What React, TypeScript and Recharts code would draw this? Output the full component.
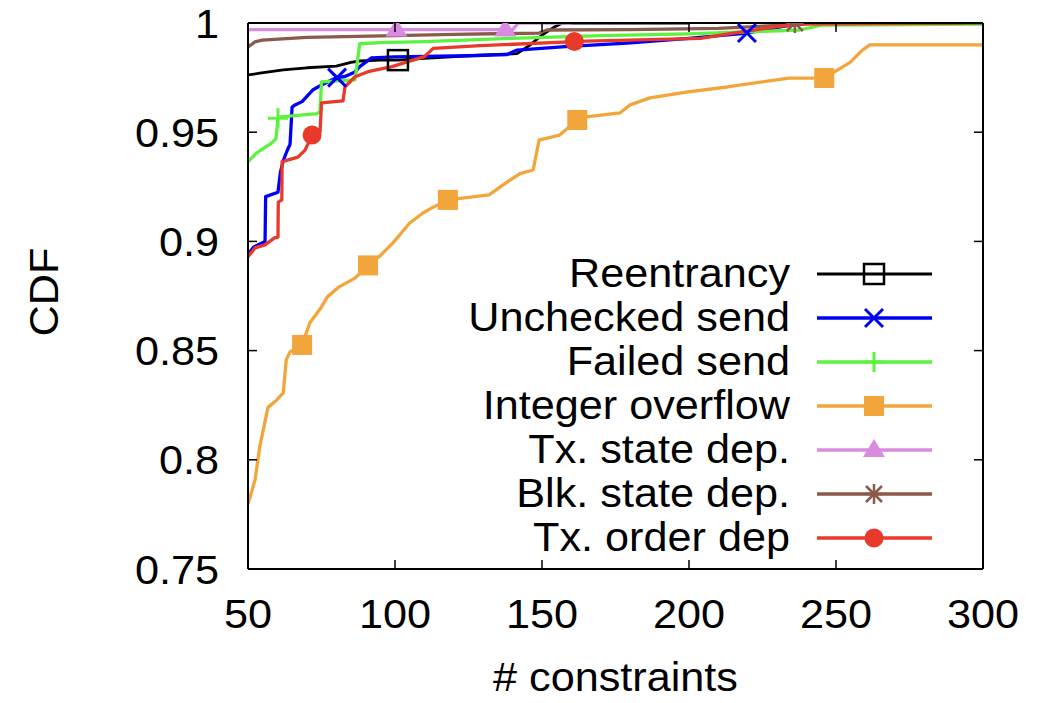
import React from 'react';
import { LineChart, Line, XAxis, YAxis, Legend } from 'recharts';

const xTicks = [50, 100, 150, 200, 250, 300];
const yTicks = [0.75, 0.8, 0.85, 0.9, 0.95, 1];
const yTickLabels = ['0.75', '0.8', '0.85', '0.9', '0.95', '1'];

const seriesNames = ['Reentrancy', 'Unchecked send', 'Failed send', 'Integer overflow', 'Tx. state dep.', 'Blk. state dep.', 'Tx. order dep'];
const seriesColors = ['#000000', '#0000f5', '#5df23f', '#f2a53a', '#d98be0', '#8a5a4a', '#e8392a'];
const seriesMarkers = ['openSquare', 'cross', 'plus', 'square', 'triangle', 'star', 'circle'];

const reentrancyX = [50, 54, 62, 70, 80, 85, 88, 95, 101, 110, 125, 141.5, 146, 150, 154, 157, 200];
const reentrancyY = [0.9762, 0.977, 0.9785, 0.9795, 0.9803, 0.982, 0.9826, 0.983, 0.983, 0.9838, 0.985, 0.986, 0.99, 0.9945, 0.998, 1, 1];
const reentrancyMarks = [101];

const uncheckedX = [50, 52, 55.8, 56, 60.2, 61, 62, 63.3, 64.3, 65, 66, 68.4, 72, 75, 78.6, 80.3, 83, 86.4, 88, 92, 100, 125, 138, 141.5, 158, 179, 200, 219.7, 232, 241, 300];
const uncheckedY = [0.894, 0.8975, 0.9, 0.9205, 0.9225, 0.9315, 0.937, 0.9415, 0.9445, 0.9615, 0.9625, 0.964, 0.9693, 0.9716, 0.974, 0.975, 0.9755, 0.9776, 0.98, 0.984, 0.9845, 0.985, 0.9855, 0.9876, 0.9892, 0.9908, 0.993, 0.9954, 0.9985, 1, 1];
const uncheckedMarks = [80.3, 219.7];

const failedX = [50, 53, 55.8, 58, 59.5, 60.2, 61, 73.5, 74.5, 75, 86.4, 88, 95, 110, 140, 170, 200, 237.7, 245, 300];
const failedY = [0.9365, 0.9405, 0.943, 0.945, 0.947, 0.9564, 0.957, 0.9585, 0.9595, 0.973, 0.974, 0.9905, 0.991, 0.9915, 0.993, 0.9942, 0.995, 0.9968, 0.999, 0.9995];
const failedMarks = [60.2];

const overflowX = [50, 52.4, 54, 56.8, 59.8, 62, 63, 64.3, 68.4, 71, 75, 77, 81, 86.4, 90.8, 95, 99.3, 105, 109.5, 113, 118, 132, 138, 142.5, 147, 149, 156, 162, 165, 176.5, 180, 186.7, 199, 213, 234, 246, 254.8, 259, 261.5, 300];
const overflowY = [0.7797, 0.7908, 0.806, 0.824, 0.8274, 0.8306, 0.8457, 0.8494, 0.8526, 0.8626, 0.87, 0.8746, 0.8792, 0.8832, 0.889, 0.8935, 0.8993, 0.9084, 0.913, 0.9157, 0.919, 0.9213, 0.927, 0.931, 0.9327, 0.9464, 0.9487, 0.9556, 0.957, 0.9588, 0.9625, 0.9657, 0.9684, 0.9707, 0.9748, 0.9748, 0.982, 0.9876, 0.99, 0.99];
const overflowMarks = [68.4, 90.8, 118, 162, 246];

const txStateX = [50, 100.5, 137.5, 140, 142, 160];
const txStateY = [0.997, 0.997, 0.997, 0.997, 1, 1];
const txStateMarks = [100.5, 137.5];

const blkStateX = [50, 52.4, 54.8, 70, 100, 120, 149, 151.7, 180, 210, 232, 236, 300];
const blkStateY = [0.989, 0.9914, 0.9922, 0.9934, 0.9942, 0.9948, 0.9954, 0.9968, 0.997, 0.9975, 0.999, 1, 1];
const blkStateMarks = [236];

const txOrderX = [50, 52.4, 55.8, 59, 60.2, 60.3, 61.5, 61.6, 67, 69.4, 71.8, 74.5, 75, 82.3, 83, 86.4, 90.8, 99, 104.4, 110, 113, 129, 161, 165, 204, 215, 230, 238, 293];
const txOrderY = [0.893, 0.897, 0.8984, 0.9016, 0.902, 0.918, 0.919, 0.9365, 0.9386, 0.9418, 0.9487, 0.95, 0.9634, 0.9643, 0.9708, 0.9754, 0.9777, 0.98, 0.9823, 0.9846, 0.9884, 0.9896, 0.9915, 0.9917, 0.993, 0.9954, 0.9983, 0.9995, 1];
const txOrderMarks = [71.8, 161];

const FONT = '"Liberation Sans", Arial, Helvetica, sans-serif';
const SX = 1.08;
const FS = 40;

const zip = (xs: number[], ys: number[]) => xs.map((x, i) => ({ x, y: ys[i] }));

const seriesData = [
  zip(reentrancyX, reentrancyY),
  zip(uncheckedX, uncheckedY),
  zip(failedX, failedY),
  zip(overflowX, overflowY),
  zip(txStateX, txStateY),
  zip(blkStateX, blkStateY),
  zip(txOrderX, txOrderY),
];
const seriesMarks = [reentrancyMarks, uncheckedMarks, failedMarks, overflowMarks, txStateMarks, blkStateMarks, txOrderMarks];
const seriesWidths = [2.8, 3.3, 3.3, 3.3, 3.3, 3.3, 3.3];

function Marker({ kind, cx, cy, color }: { kind: string; cx: number; cy: number; color: string }) {
  const h = 9;
  switch (kind) {
    case 'openSquare':
      return <rect x={cx - 10} y={cy - 10} width={20} height={20} fill="none" stroke={color} strokeWidth={2.5} />;
    case 'cross':
      return (
        <g stroke={color} strokeWidth={3}>
          <line x1={cx - h} y1={cy - h} x2={cx + h} y2={cy + h} />
          <line x1={cx - h} y1={cy + h} x2={cx + h} y2={cy - h} />
        </g>
      );
    case 'plus':
      return (
        <g stroke={color} strokeWidth={3}>
          <line x1={cx - h - 1} y1={cy} x2={cx + h + 1} y2={cy} />
          <line x1={cx} y1={cy - h - 1} x2={cx} y2={cy + h + 1} />
        </g>
      );
    case 'square':
      return <rect x={cx - 10} y={cy - 10} width={20} height={20} fill={color} />;
    case 'triangle':
      return <polygon points={`${cx},${cy - 11} ${cx + 11},${cy + 7} ${cx - 11},${cy + 7}`} fill={color} />;
    case 'star':
      return (
        <g stroke={color} strokeWidth={2.5}>
          <line x1={cx - h} y1={cy} x2={cx + h} y2={cy} />
          <line x1={cx} y1={cy - h - 1} x2={cx} y2={cy + h + 1} />
          <line x1={cx - 8} y1={cy - 8} x2={cx + 8} y2={cy + 8} />
          <line x1={cx - 8} y1={cy + 8} x2={cx + 8} y2={cy - 8} />
        </g>
      );
    case 'circle':
      return <circle cx={cx} cy={cy} r={9.5} fill={color} />;
    default:
      return null;
  }
}

const makeDot = (i: number) => (p: any) => {
  const k = `d-${i}-${p.index}`;
  if (seriesMarks[i].includes(p.payload.x) && p.cx != null && p.cy != null) {
    return (
      <g key={k}>
        <Marker kind={seriesMarkers[i]} cx={p.cx} cy={p.cy} color={seriesColors[i]} />
      </g>
    );
  }
  return <g key={k} />;
};

const BottomTick = (p: any) => (
  <g>
    <line x1={p.x} x2={p.x} y1={p.y} y2={p.y - 9} stroke="#000" strokeWidth={1.5} />
    <text transform={`translate(${p.x},${p.y + 59}) scale(${SX},1)`} textAnchor="middle" fontSize={FS} fontFamily={FONT} fill="#000">
      {p.payload.value}
    </text>
  </g>
);

const TopTick = (p: any) => (
  <g>
    <line x1={p.x} x2={p.x} y1={p.y} y2={p.y + 9} stroke="#000" strokeWidth={1.5} />
  </g>
);

const LeftTick = (p: any) => {
  const idx = yTicks.indexOf(p.payload.value);
  return (
    <g>
      <line x1={p.x} x2={p.x + 9} y1={p.y} y2={p.y} stroke="#000" strokeWidth={1.5} />
      <text transform={`translate(${p.x - 29},${p.y + 14.5}) scale(${SX},1)`} textAnchor="end" fontSize={FS} fontFamily={FONT} fill="#000">
        {idx >= 0 ? yTickLabels[idx] : p.payload.value}
      </text>
    </g>
  );
};

const RightTick = (p: any) => (
  <g>
    <line x1={p.x} x2={p.x - 9} y1={p.y} y2={p.y} stroke="#000" strokeWidth={1.5} />
  </g>
);

const XLabel = (props: any) => {
  const vb = props.viewBox || {};
  return (
    <text transform={`translate(${vb.x + vb.width / 2},${vb.y + 122}) scale(${SX},1)`} textAnchor="middle" fontSize={FS} fontFamily={FONT} fill="#000">
      # constraints
    </text>
  );
};

const YLabel = (props: any) => {
  const vb = props.viewBox || {};
  return (
    <text transform={`translate(${vb.x + 50},${vb.y + vb.height / 2 - 4}) rotate(-90) scale(${SX},1)`} textAnchor="middle" fontSize={FS} fontFamily={FONT} fill="#000">
      CDF
    </text>
  );
};

const LegendBox = () => (
  <svg width={420} height={320} style={{ display: 'block', overflow: 'visible' }}>
    {seriesNames.map((name, i) => {
      const y = 24 + i * 44;
      return (
        <g key={name}>
          <text transform={`translate(250,${y + 13}) scale(${SX},1)`} textAnchor="end" fontSize={FS} fontFamily={FONT} fill="#000">
            {name}
          </text>
          <line x1={277} x2={392} y1={y} y2={y} stroke={seriesColors[i]} strokeWidth={seriesWidths[i]} />
          <Marker kind={seriesMarkers[i]} cx={334} cy={y} color={seriesColors[i]} />
        </g>
      );
    })}
  </svg>
);

export default function App() {
  return (
    <LineChart width={1040} height={694} margin={{ top: 14, right: 64, left: 0, bottom: 0 }}>
      <XAxis
        xAxisId={0}
        type="number"
        dataKey="x"
        domain={[50, 300]}
        ticks={xTicks}
        interval={0}
        height={133}
        tickSize={0}
        tickMargin={0}
        tickLine={false}
        axisLine={{ stroke: '#000', strokeWidth: 2 }}
        tick={BottomTick}
        label={{ content: XLabel }}
        allowDataOverflow
      />
      <XAxis
        xAxisId="top"
        orientation="top"
        type="number"
        dataKey="x"
        domain={[50, 300]}
        ticks={xTicks}
        interval={0}
        height={1}
        tickSize={0}
        tickMargin={0}
        tickLine={false}
        axisLine={{ stroke: '#000', strokeWidth: 2 }}
        tick={TopTick}
        allowDataOverflow
      />
      <YAxis
        yAxisId={0}
        type="number"
        domain={[0.75, 1]}
        ticks={yTicks}
        interval={0}
        width={240}
        tickSize={0}
        tickMargin={0}
        tickLine={false}
        axisLine={{ stroke: '#000', strokeWidth: 2 }}
        tick={LeftTick}
        label={{ content: YLabel }}
        allowDataOverflow
      />
      <YAxis
        yAxisId="right"
        orientation="right"
        type="number"
        domain={[0.75, 1]}
        ticks={yTicks}
        interval={0}
        width={1}
        tickSize={0}
        tickMargin={0}
        tickLine={false}
        axisLine={{ stroke: '#000', strokeWidth: 2 }}
        tick={RightTick}
        allowDataOverflow
      />
      <Legend
        layout="vertical"
        align="center"
        verticalAlign="middle"
        content={() => <LegendBox />}
        wrapperStyle={{ left: 532, top: 242, width: 420, height: 320 }}
      />
      {seriesData.map((d, i) => (
        <Line
          key={seriesNames[i]}
          name={seriesNames[i]}
          data={d}
          dataKey="y"
          xAxisId={0}
          yAxisId={0}
          type="linear"
          stroke={seriesColors[i]}
          strokeWidth={seriesWidths[i]}
          strokeLinejoin="round"
          dot={makeDot(i)}
          activeDot={false}
          isAnimationActive={false}
        />
      ))}
    </LineChart>
  );
}
